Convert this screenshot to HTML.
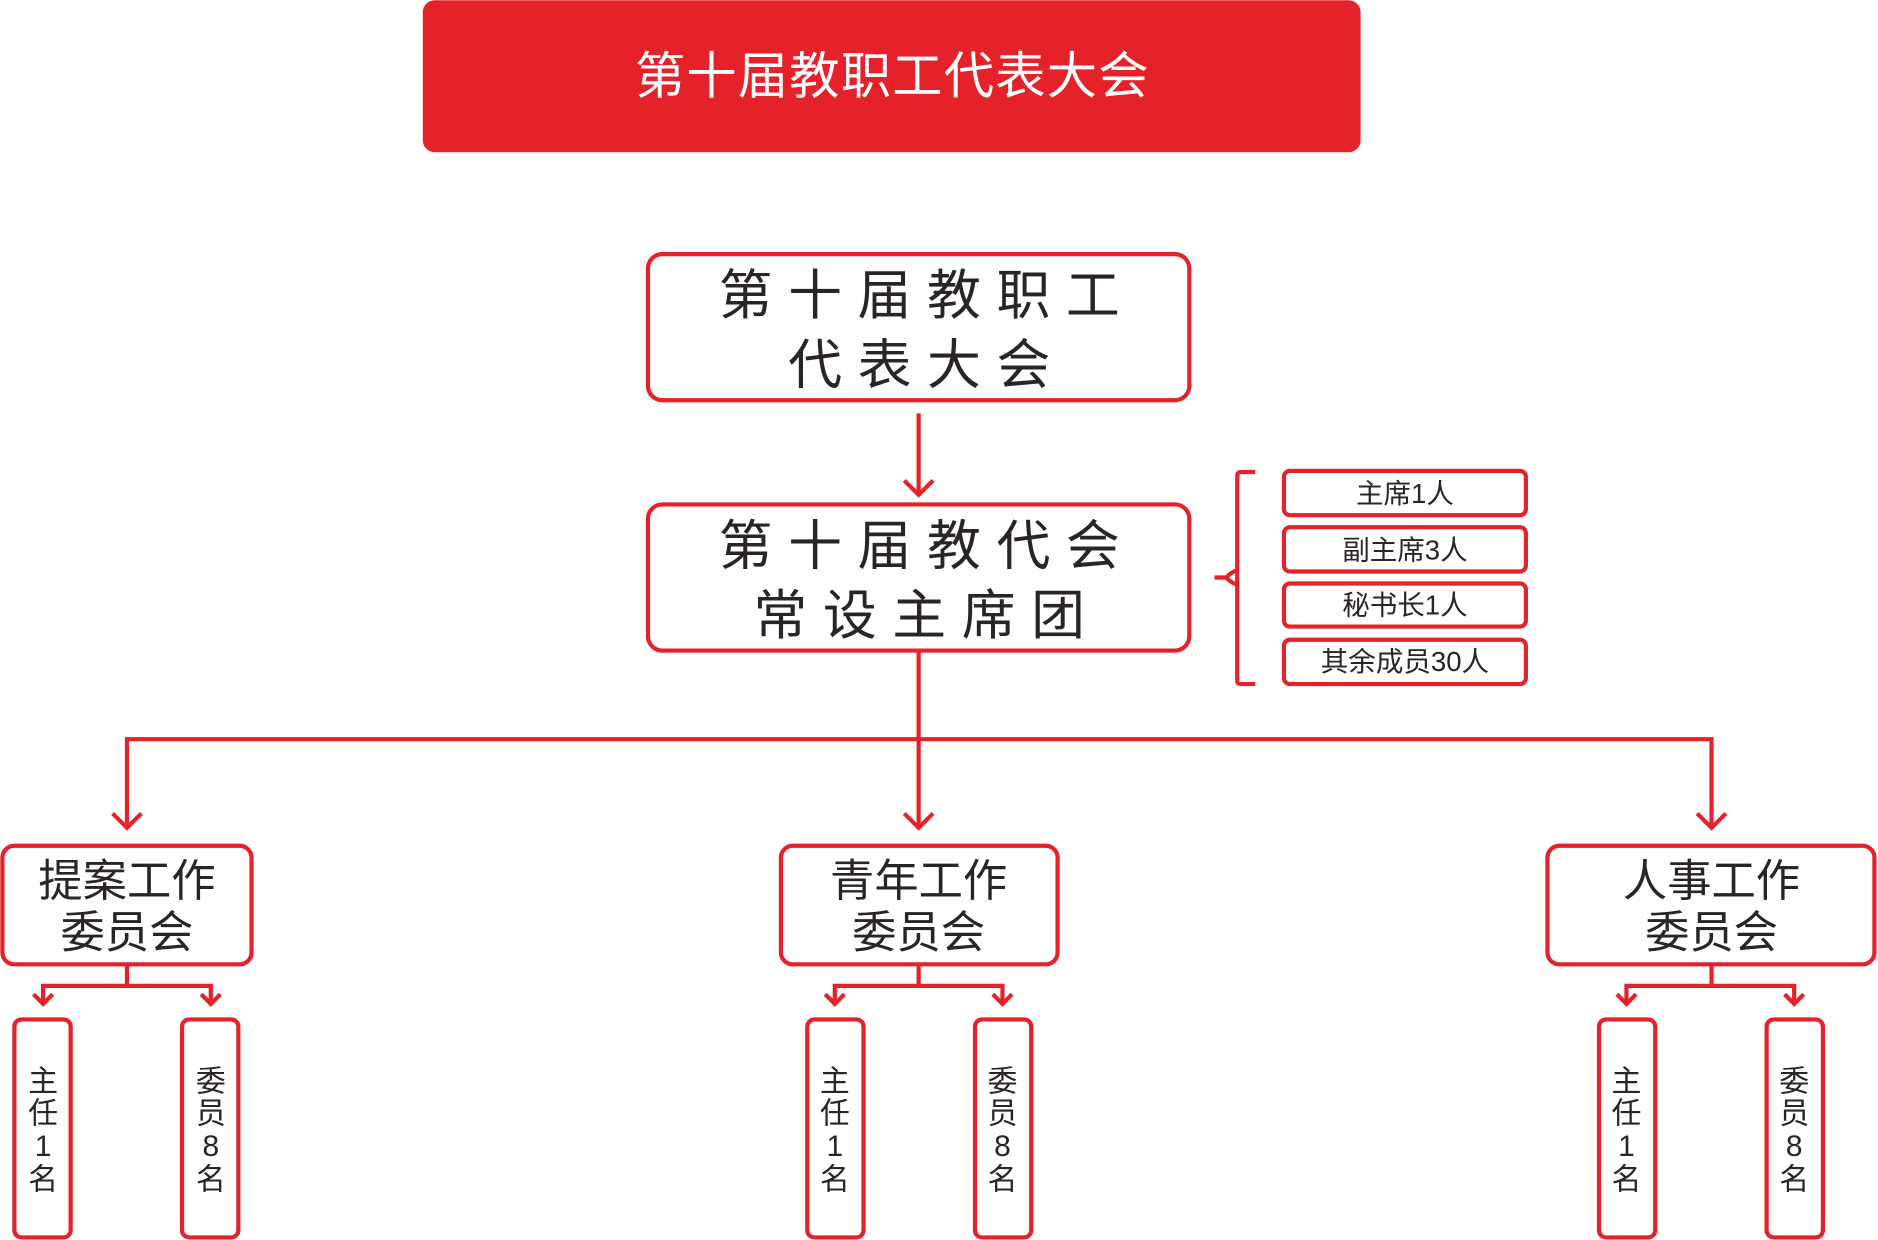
<!DOCTYPE html>
<html><head><meta charset="utf-8"><style>
html,body{margin:0;padding:0;background:#fff;}
svg{display:block}
text{font-family:"Liberation Sans","Noto Sans CJK SC",sans-serif;fill:#2a2426;text-anchor:middle;}
</style></head><body>
<svg width="1878" height="1240" viewBox="0 0 1568 1035" xmlns="http://www.w3.org/2000/svg">
<g fill="none" stroke="#e52129" stroke-width="3.5">
<rect x="541" y="212" width="452" height="122" rx="12"/>
<rect x="541" y="421" width="452" height="122" rx="12"/>
<line x1="767" y1="345" x2="767" y2="413"/>
<polyline points="755,401 767,413 779,401"/>
<line x1="767" y1="543" x2="767" y2="690"/>
<polyline points="106,690 106,617 1429,617 1429,690"/>
<polyline points="94,679 106,691 118,679"/>
<polyline points="755,679 767,691 779,679"/>
<polyline points="1417,679 1429,691 1441,679"/>
<rect x="2" y="706" width="208" height="99" rx="10"/>
<rect x="652" y="706" width="231" height="99" rx="10"/>
<rect x="1292" y="706" width="273" height="99" rx="10"/>
<polyline points="106,805 106,823"/><polyline points="36,838 36,823 176,823 176,838"/>
<polyline points="767,805 767,823"/><polyline points="697,838 697,823 837,823 837,838"/>
<polyline points="1429,805 1429,823"/><polyline points="1358,838 1358,823 1498,823 1498,838"/>
<g>
<polyline points="28,830 36,838 44,830"/><polyline points="168,830 176,838 184,830"/>
<polyline points="689,830 697,838 705,830"/><polyline points="829,830 837,838 845,830"/>
<polyline points="1350,830 1358,838 1366,830"/><polyline points="1490,830 1498,838 1506,830"/>
</g>
<rect x="12" y="851" width="47" height="182" rx="6"/>
<rect x="152" y="851" width="47" height="182" rx="6"/>
<rect x="674" y="851" width="47" height="182" rx="6"/>
<rect x="814" y="851" width="47" height="182" rx="6"/>
<rect x="1335" y="851" width="47" height="182" rx="6"/>
<rect x="1475" y="851" width="47" height="182" rx="6"/>
<path d="M1048,394 H1036 Q1033,394 1033,397 V568 Q1033,571 1036,571 H1048"/>
<path d="M1014,482 H1024 M1033,476 Q1027,478 1024,482 Q1027,486 1033,488"/>
<rect x="1072" y="393" width="202" height="37" rx="5"/>
<rect x="1072" y="440" width="202" height="37" rx="5"/>
<rect x="1072" y="487" width="202" height="36" rx="5"/>
<rect x="1072" y="534" width="202" height="37" rx="5"/>
</g>
<rect x="353" y="0" width="783" height="127" rx="10" fill="#e52129"/>
<text x="745" y="78" font-size="42" style="fill:#fff" letter-spacing="1">第十届教职工代表大会</text>
<g font-size="45" letter-spacing="13">
<text x="774" y="262">第十届教职工</text>
<text x="774" y="320">代表大会</text>
<text x="774" y="471">第十届教代会</text>
<text x="774" y="529">常设主席团</text>
</g>
<g font-size="37">
<text x="106" y="748">提案工作</text><text x="106" y="791">委员会</text>
<text x="767" y="748">青年工作</text><text x="767" y="791">委员会</text>
<text x="1429" y="748">人事工作</text><text x="1429" y="791">委员会</text>
</g>
<g font-size="23">
<text x="1173" y="420">主席1人</text>
<text x="1173" y="467">副主席3人</text>
<text x="1173" y="513">秘书长1人</text>
<text x="1173" y="560">其余成员30人</text>
</g>
<g font-size="25">
<text x="36" y="911">主</text><text x="36" y="938">任</text><text x="36" y="965">1</text><text x="36" y="993">名</text>
<text x="176" y="911">委</text><text x="176" y="938">员</text><text x="176" y="965">8</text><text x="176" y="993">名</text>
<text x="697" y="911">主</text><text x="697" y="938">任</text><text x="697" y="965">1</text><text x="697" y="993">名</text>
<text x="837" y="911">委</text><text x="837" y="938">员</text><text x="837" y="965">8</text><text x="837" y="993">名</text>
<text x="1358" y="911">主</text><text x="1358" y="938">任</text><text x="1358" y="965">1</text><text x="1358" y="993">名</text>
<text x="1498" y="911">委</text><text x="1498" y="938">员</text><text x="1498" y="965">8</text><text x="1498" y="993">名</text>
</g>
</svg>
</body></html>
